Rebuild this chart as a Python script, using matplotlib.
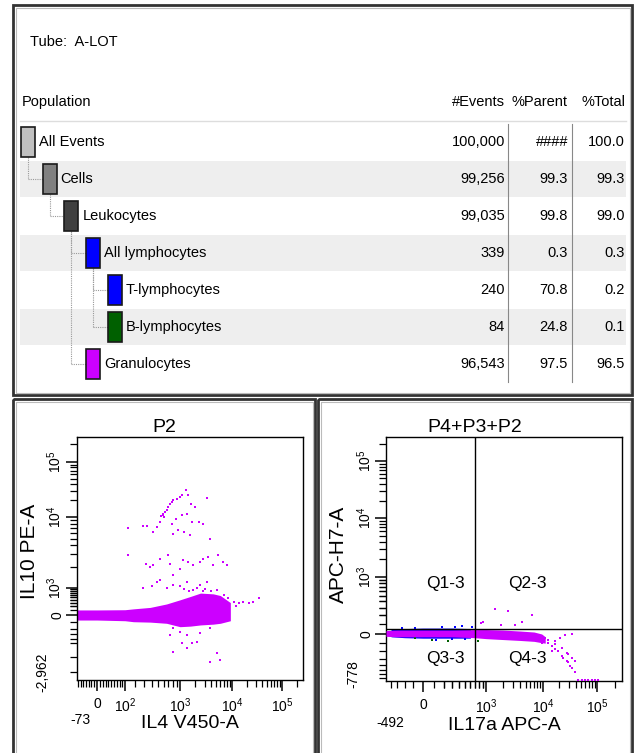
import numpy as np
import matplotlib.pyplot as plt
from matplotlib.patches import Rectangle
from matplotlib.ticker import FixedLocator

plt.rcParams['font.family'] = ['Liberation Sans', 'DejaVu Sans']
plt.rcParams['mathtext.fontset'] = 'custom'
plt.rcParams['mathtext.rm'] = 'Liberation Sans'
plt.rcParams['mathtext.it'] = 'Liberation Sans:italic'
plt.rcParams['mathtext.bf'] = 'Liberation Sans:bold'

MAG = '#cc00ff'

# ---- population hierarchy table ----
populations = ['All Events', 'Cells', 'Leukocytes', 'All lymphocytes',
               'T-lymphocytes', 'B-lymphocytes', 'Granulocytes']
events = [100000, 99256, 99035, 339, 240, 84, 96543]
pct_parent = [100.0, 99.3, 99.8, 0.3, 70.8, 24.8, 97.5]
pct_total = [100.0, 99.3, 99.0, 0.3, 0.2, 0.1, 96.5]
depth = [0, 1, 2, 3, 4, 4, 3]
parent_idx = [-1, 0, 1, 2, 3, 3, 2]
pop_colors = ['#c0c0c0', '#808080', '#404040', '#0000ff', '#0000ff', '#006000', MAG]

# ---- P2: IL4 V450-A vs IL10 PE-A ----
p2_band_x = [-73, 0, 100, 180, 380, 660, 1000, 1600, 2500, 4400, 6000, 9300]
p2_band_hi = [110, 110, 115, 135, 170, 260, 390, 520, 680, 640, 560, 300]
p2_band_lo = [-70, -70, -80, -94, -100, -117, -169, -160, -142, -130, -117, -80]
p2_events = np.array([
    [125, 7100], [281, 7490], [330, 7490], [424, 6170], [476, 7250], [535, 8510],
    [598, 11500], [627, 12300], [660, 13200], [697, 15200], [735, 17500], [774, 18700],
    [816, 20100], [900, 21500], [1000, 23100], [1077, 24800], [1306, 30500], [1450, 24800],
    [1608, 17500], [1951, 15200], [3280, 22100], [1346, 11500], [1077, 10700], [883, 9480],
    [774, 8070], [816, 5850], [950, 6520], [1195, 6170], [1562, 5550], [1683, 8510],
    [2366, 8510], [2830, 8070], [3810, 4990], [560, 10500], [580, 11000], [610, 10200],
    [125, 2980], [318, 2230], [377, 2010], [424, 2120], [535, 2620], [697, 2920],
    [735, 2230], [816, 1530], [1000, 1900], [1160, 2490], [1450, 2360], [1812, 2120],
    [2439, 2360], [2830, 2620], [3536, 2770], [4420, 2120], [5520, 2920], [6700, 2360],
    [8000, 2120], [290, 1000], [400, 1055], [476, 1240], [535, 1310], [660, 1000],
    [816, 1110], [1000, 1055], [1346, 1240], [2100, 1000], [2439, 1110], [3280, 1240],
    [5120, 880], [1200, 900], [1800, 850], [3000, 900], [4000, 800], [1500, 780],
    [2800, 820], [7000, 600], [8500, 450], [10770, 333], [13500, 282], [16800, 333],
    [26200, 333], [35300, 453], [22000, 300], [12000, 200], [735, -316], [816, -780],
    [1077, -511], [1346, -660], [2100, -464], [2439, -282], [3810, -195], [5120, -850],
    [5950, -1170], [3810, -1260], [1346, -316], [816, -195], [1000, -252], [1683, -511],
])

# ---- P4+P3+P2: IL17a APC-A vs APC-H7-A ----
q_gate_x = 700
q_gate_y = 55
q_band_x = [-492, -300, 0, 300, 700, 1000, 2000, 4000, 7000, 9500, 11000]
q_band_hi = [35, 40, 40, 40, 45, 45, 40, 30, 20, 0, -30]
q_band_lo = [-25, -30, -30, -30, -40, -50, -60, -70, -80, -95, -100]
t_band_x = [-400, -200, 0, 300, 600]
t_band_hi = [45, 55, 60, 60, 55]
t_band_lo = [-30, -40, -45, -45, -45]
q_events = np.array([
    [1438, 278], [2458, 258], [6340, 207], [3225, 92], [4228, 128], [1886, 92],
    [865, 110], [910, 128], [25530, -9], [33990, -5], [20650, -45], [16680, -81],
    [12530, -99], [14490, -137], [16680, -174], [19200, -195], [22200, -261],
    [23770, -285], [27470, -334], [29400, -361], [31620, -421], [33990, -452],
    [39100, -555], [45000, -755], [51900, -760], [59900, -760], [68900, -760],
    [79800, -760], [91600, -760], [105000, -760], [29400, -238], [33990, -285],
    [14490, -195], [10900, -45], [12530, -63], [9500, -99], [16680, -106],
    [22200, -155], [27470, -216], [39100, -334],
])
t_events = np.array([[181, 75], [341, 70], [-83, 65], [-238, 60], [443, 80], [623, 70],
                     [120, -60], [300, -55], [500, -58]])
b_events = np.array([[776, -81], [80, -63], [254, -75], [-83, -45]])
quadrants = ['Q1-3', 'Q2-3', 'Q3-3', 'Q4-3']


def biex(vals, dist, c=300.0):
    # piecewise biexponential-like display scale through the tick anchors
    u = np.arcsinh(np.asarray(vals, float) / c)
    d = np.asarray(dist, float) / dist[-1]

    def fwd(v):
        return np.interp(np.arcsinh(np.asarray(v, float) / c), u, d)

    def inv(p):
        return c * np.sinh(np.interp(np.asarray(p, float), d, u))
    return fwd, inv


def decade_minors(lin):
    m = list(lin)
    for e in [2, 3, 4]:
        m += [k * 10 ** e for k in range(2, 10)]
    m.append(2e5)
    return m


W, H = 637, 753
fig = plt.figure(figsize=(W / 100, H / 100), dpi=100)

bg = fig.add_axes([0, 0, 1, 1])
bg.set_xlim(0, W)
bg.set_ylim(H, 0)
bg.axis('off')

# frames
bg.add_patch(Rectangle((13, 5), 619, 390, fill=False, ec='#333333', lw=2))
bg.add_patch(Rectangle((15.5, 7.5), 614, 385, fill=False, ec='#bbbbbb', lw=0.8))
for x0, w in [(13, 302), (318, 314)]:
    bg.add_patch(Rectangle((x0, 399), w, 360, fill=False, ec='#333333', lw=2))
    bg.add_patch(Rectangle((x0 + 2.5, 401.5), w - 5, 360, fill=False, ec='#bbbbbb', lw=0.8))

tfs = 10.5
bg.text(30, 42, 'Tube:  A-LOT', fontsize=tfs, va='center')
bg.text(22, 102, 'Population', fontsize=tfs, va='center')
col_right = [505, 568, 625]
for hdr, xr in zip(['#Events', '%Parent', '%Total'], col_right):
    bg.text(xr, 102, hdr, fontsize=tfs, ha='right', va='center')
bg.plot([20, 626], [121, 121], color='#dddddd', lw=1)

row_y0, row_h = 142, 37
for xs in [508, 572]:
    bg.plot([xs, xs], [124, 382], color='#888888', lw=0.8)

for i, name in enumerate(populations):
    yc = row_y0 + i * row_h
    if i % 2 == 1:
        bg.add_patch(Rectangle((20, yc - 18), 606, 36, color='#eeeeee', lw=0, zorder=0))
    bx = 21 + depth[i] * 21.7
    p = parent_idx[i]
    if p >= 0:
        px = 21 + depth[p] * 21.7 + 7
        py = row_y0 + p * row_h + 15
        bg.plot([px, px], [py, yc], color='#999999', lw=0.8, ls=(0, (1, 1)), zorder=1)
        bg.plot([px, bx], [yc, yc], color='#999999', lw=0.8, ls=(0, (1, 1)), zorder=1)
    bg.add_patch(Rectangle((bx, yc - 15), 14, 30, fc=pop_colors[i], ec='#1a1a1a', lw=1.2, zorder=3))
    bg.text(bx + 18, yc, name, fontsize=tfs, va='center')
    par = '####' if pct_parent[i] >= 100 else f'{pct_parent[i]:.1f}'
    vals = [f'{events[i]:,}', par, f'{pct_total[i]:.1f}']
    for v, xr in zip(vals, col_right):
        bg.text(xr, yc, v, fontsize=tfs, ha='right', va='center')

# ---- dot plots ----
axL = fig.add_axes([77 / W, (H - 680) / H, 226 / W, 243 / H])
axR = fig.add_axes([386 / W, (H - 681) / H, 236 / W, 244 / H])

axL.set_xscale('function', functions=biex([-73, 0, 100, 1000, 1e4, 1e5, 262144],
                                          [0, 20, 48, 103, 155, 205, 226]))
axL.set_yscale('function', functions=biex([-2962, 0, 1000, 1e4, 1e5, 262144],
                                          [0, 65, 92, 163, 218, 243]))
axL.set_xlim(-73, 262144)
axL.set_ylim(-2962, 262144)

axR.set_xscale('function', functions=biex([-492, 0, 1000, 1e4, 1e5, 262144],
                                          [0, 37, 100, 157, 211, 236]))
axR.set_yscale('function', functions=biex([-778, 0, 1000, 1e4, 1e5, 262144],
                                          [0, 47, 104, 163, 220, 244]))
axR.set_xlim(-492, 262144)
axR.set_ylim(-778, 262144)

axL.set_xticks([0, 1e2, 1e3, 1e4, 1e5], ['0', r'$10^2$', r'$10^3$', r'$10^4$', r'$10^5$'])
axL.set_yticks([0, 1e3, 1e4, 1e5], ['0', r'$10^3$', r'$10^4$', r'$10^5$'])
axL.xaxis.set_minor_locator(FixedLocator(decade_minors(list(range(-70, 0, 10)) + list(range(10, 100, 10)))))
axL.yaxis.set_minor_locator(FixedLocator(decade_minors([-2000, -1000, -500] + list(range(-400, 0, 100)) + list(range(100, 1000, 100)))))

axR.set_xticks([0, 1e3, 1e4, 1e5], ['0', r'$10^3$', r'$10^4$', r'$10^5$'])
axR.set_yticks([0, 1e3, 1e4, 1e5], ['0', r'$10^3$', r'$10^4$', r'$10^5$'])
axR.xaxis.set_minor_locator(FixedLocator(decade_minors(list(range(-400, 0, 100)) + list(range(100, 1000, 100)))))
axR.yaxis.set_minor_locator(FixedLocator(decade_minors(list(range(-700, 0, 100)) + list(range(100, 1000, 100)))))

for ax in (axL, axR):
    ax.tick_params(which='major', direction='out', length=8, width=1.1, labelsize=10)
    ax.tick_params(which='minor', direction='out', length=5, width=0.9)
    ax.tick_params(axis='x', which='major', pad=4)
    ax.tick_params(axis='y', which='major', pad=1)
    for lbl in ax.get_yticklabels():
        lbl.set_rotation(90)
        lbl.set_va('center')
        lbl.set_ha('right')
    for s in ax.spines.values():
        s.set_linewidth(1)

# P2 events
axL.fill_between(p2_band_x, p2_band_lo, p2_band_hi, color=MAG, lw=0, zorder=2)
axL.scatter(p2_events[:, 0], p2_events[:, 1], s=4, marker='s', color=MAG, lw=0, zorder=3)

# quadrant plot events
axR.fill_between(t_band_x, t_band_lo, t_band_hi, color='#0000ff', lw=0, zorder=2)
axR.scatter(t_events[:, 0], t_events[:, 1], s=4, marker='s', color='#0000ff', lw=0, zorder=3)
axR.scatter(b_events[:, 0], b_events[:, 1], s=4, marker='s', color='#006000', lw=0, zorder=3)
axR.fill_between(q_band_x, q_band_lo, q_band_hi, color=MAG, lw=0, zorder=4)
axR.scatter(q_events[:, 0], q_events[:, 1], s=4, marker='s', color=MAG, lw=0, zorder=5)
axR.axvline(q_gate_x, color='black', lw=1, zorder=6)
axR.axhline(q_gate_y, color='black', lw=1, zorder=6)
for lab, (fx, fy) in zip(quadrants, [(0.25, 0.40), (0.60, 0.40), (0.25, 0.094), (0.60, 0.094)]):
    axR.text(fx, fy, lab, transform=axR.transAxes, ha='center', va='center', fontsize=12.5)

# edge values of the biexponential axes
axL.text(0.013, -0.165, '-73', transform=axL.transAxes, ha='center', va='center', fontsize=10)
axL.text(-0.155, 0.03, '-2,962', transform=axL.transAxes, ha='center', va='center',
         fontsize=10, rotation=90)
axR.text(0.017, -0.172, '-492', transform=axR.transAxes, ha='center', va='center', fontsize=10)
axR.text(-0.14, 0.03, '-778', transform=axR.transAxes, ha='center', va='center',
         fontsize=10, rotation=90)

axL.set_xlabel('IL4 V450-A', fontsize=14)
axL.xaxis.set_label_coords(0.5, -0.177)
axL.xaxis.label.set_va('center')
axL.set_ylabel('IL10 PE-A', fontsize=15)
axL.yaxis.set_label_coords(-0.208, 0.53)
axL.yaxis.label.set_va('center')

axR.set_xlabel('IL17a APC-A', fontsize=14)
axR.xaxis.set_label_coords(0.5, -0.184)
axR.xaxis.label.set_va('center')
axR.set_ylabel('APC-H7-A', fontsize=15)
axR.yaxis.set_label_coords(-0.2, 0.52)
axR.yaxis.label.set_va('center')

fig.text(164 / W, 1 - 427 / H, 'P2', ha='center', va='center', fontsize=14)
fig.text(475 / W, 1 - 427 / H, 'P4+P3+P2', ha='center', va='center', fontsize=14)

fig.savefig('out.png', dpi=100)
